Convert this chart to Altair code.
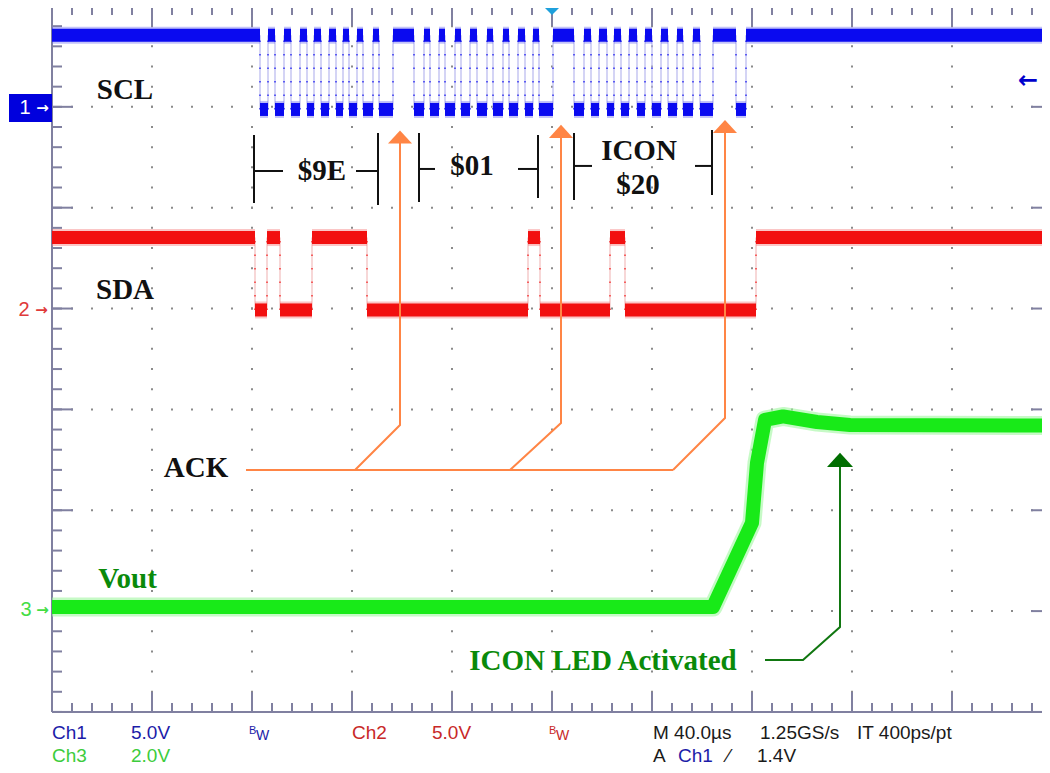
import altair as alt
import pandas as pd
import numpy as np

# ---------------- data (time in µs, 40 µs/div; voltages in V) ----------------
T_MIN, T_MAX = -200.0, 200.0
SCL_EDGES_US = [-116.8, -113.6, -110.8, -107.2, -104.4, -100.8, -98.0, -95.2, -92.4,
                -89.2, -86.4, -83.6, -81.2, -78.0, -75.6, -71.6, -69.2, -63.6, -55.2,
                -51.2, -48.8, -45.2, -42.8, -38.8, -36.4, -32.8, -30.0, -26.0, -23.6,
                -19.6, -17.2, -13.6, -10.8, -7.6, -5.2, 0.4, 8.8, 12.8, 15.6, 18.8,
                22.0, 24.8, 27.6, 30.8, 34.0, 37.2, 40.0, 43.6, 46.4, 50.0, 52.4,
                56.4, 59.2, 64.4, 73.6, 77.6]
SCL_HIGH_V, SCL_LOW_V = 3.55, -0.13
SDA_EDGES_US = [-118.8, -114.0, -108.8, -96.0, -74.0, -9.6, -4.8, 23.2, 29.2, 81.6]
SDA_HIGH_V, SDA_LOW_V = 3.52, -0.07
VOUT_T_US = [-200.0, 64.4, 80.0, 82.0, 85.2, 92.4, 106.0, 119.2, 200.0]
VOUT_V = [0.08, 0.08, 1.75, 2.94, 3.79, 3.86, 3.75, 3.69, 3.68]

CH1_POS, CH2_POS, CH3_POS = 6.0, 4.0, 1.0        # channel ground position (div)
CH1_VDIV, CH2_VDIV, CH3_VDIV = 5.0, 5.0, 2.0      # V/div

# ---------------- scales ----------------
XS = alt.Scale(domain=[-217.6, 196.0], nice=False, zero=False)
YS = alt.Scale(domain=[-0.526, 6.98], nice=False, zero=False)


def ex(f="t"):
    return alt.X(f"{f}:Q", scale=XS, axis=None)


def ey(f="L"):
    return alt.Y(f"{f}:Q", scale=YS, axis=None)


layers = []

# ---------------- graticule ----------------
GRID = "#8a8a8a"
BORDER = "#8080a0"
rows = pd.DataFrame({"L": [1, 2, 3, 4, 5, 6], "t": T_MIN, "t2": T_MAX})
layers.append(alt.Chart(rows).mark_rule(color=GRID, strokeWidth=2, strokeDash=[2, 18], strokeDashOffset=1)
              .encode(x=ex("t"), x2=alt.X2("t2:Q"), y=ey("L")))
cols = pd.DataFrame({"t": [-160, -120, -80, -40, 0, 40, 80, 120, 160], "L": 7.0, "L2": 0.0})
layers.append(alt.Chart(cols).mark_rule(color=GRID, strokeWidth=2, strokeDash=[2, 18.17], strokeDashOffset=1)
              .encode(x=ex("t"), y=ey("L"), y2=alt.Y2("L2:Q")))

border = pd.DataFrame({"t": [T_MIN, T_MIN, T_MIN, T_MAX], "t2": [T_MAX, T_MAX, T_MIN, T_MAX],
                       "L": [7.0, 0.0, 0.0, 0.0], "L2": [7.0, 0.0, 7.0, 7.0]})
layers.append(alt.Chart(border).mark_rule(color=BORDER, strokeWidth=2)
              .encode(x=ex("t"), x2=alt.X2("t2:Q"), y=ey("L"), y2=alt.Y2("L2:Q")))

minor_t = np.arange(-200, 200.1, 8.0)
major_t = np.arange(-200, 200.1, 40.0)
minor_L = np.arange(0, 7.01, 0.2)
major_L = np.arange(0, 7.01, 1.0)
for tt, ln in ((minor_t, 9), (major_t, 20)):
    d = pd.DataFrame({"t": tt, "Lt": 7.0, "Lb": 0.0})
    layers.append(alt.Chart(d).mark_rule(color=BORDER, strokeWidth=2, y2Offset=ln)
                  .encode(x=ex("t"), y=ey("Lt"), y2=alt.Y2("Lt:Q")))
    layers.append(alt.Chart(d).mark_rule(color=BORDER, strokeWidth=2, y2Offset=-ln)
                  .encode(x=ex("t"), y=ey("Lb"), y2=alt.Y2("Lb:Q")))
for ll, ln in ((minor_L, 10), (major_L, 21)):
    d = pd.DataFrame({"L": ll, "tl": T_MIN, "tr": T_MAX})
    layers.append(alt.Chart(d).mark_rule(color=BORDER, strokeWidth=2, x2Offset=ln)
                  .encode(x=ex("tl"), x2=alt.X2("tl:Q"), y=ey("L")))
    layers.append(alt.Chart(d).mark_rule(color=BORDER, strokeWidth=2, x2Offset=-ln)
                  .encode(x=ex("tr"), x2=alt.X2("tr:Q"), y=ey("L")))


# ---------------- digital waveforms ----------------
def square_wave(edges, hi, lo, pos, vdiv):
    times = [T_MIN] + list(edges) + [T_MAX]
    segs = []
    for i in range(len(times) - 1):
        v = hi if i % 2 == 0 else lo
        segs.append({"t": times[i], "t2": times[i + 1], "L": pos + v / vdiv})
    trans = pd.DataFrame({"t": edges, "Llo": pos + lo / vdiv, "Lhi": pos + hi / vdiv})
    return pd.DataFrame(segs), trans


def wave_layers(edges, hi, lo, pos, vdiv, core, halo, trans_col):
    segs, trans = square_wave(edges, hi, lo, pos, vdiv)
    out = [
        alt.Chart(trans).mark_rule(color=trans_col, strokeWidth=1.2)
        .encode(x=ex("t"), y=ey("Llo"), y2=alt.Y2("Lhi:Q")),
        alt.Chart(trans).mark_rule(color=core, strokeWidth=2, strokeDash=[1.5, 12], opacity=0.6)
        .encode(x=ex("t"), y=ey("Llo"), y2=alt.Y2("Lhi:Q")),
        alt.Chart(segs).mark_rule(color=halo, strokeWidth=17, opacity=0.4)
        .encode(x=ex("t"), x2=alt.X2("t2:Q"), y=ey("L")),
        alt.Chart(segs).mark_rule(color=core, strokeWidth=13)
        .encode(x=ex("t"), x2=alt.X2("t2:Q"), y=ey("L")),
    ]
    return out


layers += wave_layers(SCL_EDGES_US, SCL_HIGH_V, SCL_LOW_V, CH1_POS, CH1_VDIV, "#0a0af0", "#6a6af0", "#b8b8ee")
layers += wave_layers(SDA_EDGES_US, SDA_HIGH_V, SDA_LOW_V, CH2_POS, CH2_VDIV, "#f21010", "#f47070", "#f2bcbc")

vout = pd.DataFrame({"t": VOUT_T_US, "L": [CH3_POS + v / CH3_VDIV for v in VOUT_V], "k": range(len(VOUT_V))})
layers.append(alt.Chart(vout).mark_line(color="#a0f7a0", strokeWidth=19, opacity=0.6, strokeJoin="round")
              .encode(x=ex("t"), y=ey("L"), order="k:Q"))
layers.append(alt.Chart(vout).mark_line(color="#18ea18", strokeWidth=14, strokeJoin="round")
              .encode(x=ex("t"), y=ey("L"), order="k:Q"))

# ---------------- annotations ----------------
brackets = pd.DataFrame({
    "t":  [-119.2, -119.2, -69.6, -78.4, -53.2, -53.2, -5.6, -13.6, 8.8, 8.8, 64.0, 57.2],
    "t2": [-119.2, -107.6, -69.6, -69.6, -53.2, -46.8, -5.6, -5.6, 8.8, 16.0, 64.0, 64.0],
    "L":  [5.721, 5.364, 5.741, 5.364, 5.741, 5.384, 5.721, 5.384, 5.741, 5.414, 5.771, 5.414],
    "L2": [5.047, 5.364, 5.027, 5.364, 5.057, 5.384, 5.096, 5.384, 5.077, 5.414, 5.126, 5.414],
})
layers.append(alt.Chart(brackets).mark_rule(color="#111111", strokeWidth=2)
              .encode(x=ex("t"), x2=alt.X2("t2:Q"), y=ey("L"), y2=alt.Y2("L2:Q")))

ORANGE = "#ff8545"
ack_lines = pd.DataFrame({
    "id": [1, 1, 1, 2, 2, 2, 3, 3, 3, 4, 4],
    "k":  [0, 1, 2, 0, 1, 2, 0, 1, 2, 0, 1],
    "t":  [-60.8, -60.8, -78.8, 3.6, 3.6, -16.8, 69.2, 69.2, 48.4, -122.4, 48.4],
    "L":  [5.67, 2.845, 2.399, 5.72, 2.865, 2.399, 5.77, 2.914, 2.399, 2.399, 2.399],
})
layers.append(alt.Chart(ack_lines).mark_line(color=ORANGE, strokeWidth=2)
              .encode(x=ex("t"), y=ey("L"), detail="id:N", order="k:Q"))
ack_heads = pd.DataFrame({"t": [-60.8, 3.6, 69.2], "L": [5.701, 5.756, 5.805]})
layers.append(alt.Chart(ack_heads).mark_point(shape="M-1,0.55L0,-0.55L1,0.55Z", filled=True, size=576,
                                              color=ORANGE, opacity=1, strokeWidth=0)
              .encode(x=ex("t"), y=ey("L")))

DKGREEN = "#0a8a0a"
led_line = pd.DataFrame({"t": [85.2, 100.4, 115.2, 115.2], "L": [0.516, 0.516, 0.843, 2.45], "k": [0, 1, 2, 3]})
layers.append(alt.Chart(led_line).mark_line(color="#117711", strokeWidth=2)
              .encode(x=ex("t"), y=ey("L"), order="k:Q"))
layers.append(alt.Chart(pd.DataFrame({"t": [115.2], "L": [2.499]}))
              .mark_point(shape="M-1,0.55L0,-0.55L1,0.55Z", filled=True, size=676, color="#006e00",
                          opacity=1, strokeWidth=0)
              .encode(x=ex("t"), y=ey("L")))

ann = pd.DataFrame({
    "txt": ["SCL", "SDA", "$9E", "$01", "ICON", "$20", "ACK", "Vout", "ICON LED Activated"],
    "t": [-170.8, -170.8, -92.0, -32.0, 34.8, 34.4, -142.4, -169.8, 20.4],
    "L": [6.078, 4.095, 5.275, 5.324, 5.473, 5.136, 2.330, 1.229, 0.416],
    "col": ["#111111"] * 7 + [DKGREEN, DKGREEN],
})
layers.append(alt.Chart(ann).mark_text(font="Liberation Serif", fontSize=29, fontWeight="bold",
                                       align="center", baseline="alphabetic")
              .encode(x=ex("t"), y=ey("L"), text="txt:N", color=alt.Color("col:N", scale=None)))

# ---------------- channel markers ----------------
layers.append(alt.Chart(pd.DataFrame({"t": [-217.2], "t2": [-200.0], "L": [6.127], "L2": [5.850]}))
              .mark_rect(color="#0000dd")
              .encode(x=ex("t"), x2=alt.X2("t2:Q"), y=ey("L"), y2=alt.Y2("L2:Q")))
marks_num = pd.DataFrame({"txt": ["1", "2", "3"], "t": [-210.8, -211.2, -210.4], "L": [5.99, 3.986, 1.011],
                          "col": ["#ffffff", "#e03a3a", "#44dd44"]})
layers.append(alt.Chart(marks_num).mark_text(font="Liberation Sans", fontSize=20, align="center", baseline="middle")
              .encode(x=ex("t"), y=ey("L"), text="txt:N", color=alt.Color("col:N", scale=None)))
marks_arrow = pd.DataFrame({"txt": ["→", "→", "→"], "t": [-203.8, -204.2, -203.8],
                            "L": [5.99, 3.99, 1.011],
                            "col": ["#ffffff", "#e03a3a", "#44dd44"]})
layers.append(alt.Chart(marks_arrow).mark_text(font="DejaVu Sans", fontSize=15, fontWeight="bold",
                                               align="center", baseline="middle")
              .encode(x=ex("t"), y=ey("L"), text="txt:N", color=alt.Color("col:N", scale=None)))
layers.append(alt.Chart(pd.DataFrame({"txt": ["←"], "t": [190.4], "L": [6.256]}))
              .mark_text(font="DejaVu Sans", fontSize=24, fontWeight="bold", color="#0000cc",
                         align="center", baseline="middle")
              .encode(x=ex("t"), y=ey("L"), text="txt:N"))
layers.append(alt.Chart(pd.DataFrame({"t": [0.0], "L": [6.96]}))
              .mark_point(shape="M-1,-0.5L1,-0.5L0,0.5Z", filled=True, size=400, color="#1ea0dc",
                          opacity=1, strokeWidth=0)
              .encode(x=ex("t"), y=ey("L")))

# ---------------- status readout ----------------
BLUE_T, RED_T, GREEN_T, BLACK_T = "#1c1ca8", "#c82828", "#3ccc3c", "#1a1a1a"
R1, R2 = -0.268, -0.496
status = pd.DataFrame({
    "txt": ["Ch1", "5.0V", "Ch2", "5.0V", "M 40.0µs", "1.25GS/s", "IT 400ps/pt",
            "Ch3", "2.0V", "A", "Ch1", "⁄", "1.4V"],
    "t": [-200.0, -168.4, -80.0, -48.0, 40.4, 83.2, 122.0, -200.0, -168.4, 40.4, 50.4, 70.0, 82.0],
    "L": [R1] * 7 + [R2] * 6,
    "col": [BLUE_T, BLUE_T, RED_T, RED_T, BLACK_T, BLACK_T, BLACK_T,
            GREEN_T, GREEN_T, BLACK_T, BLUE_T, BLACK_T, BLACK_T],
})
layers.append(alt.Chart(status).mark_text(font="Liberation Sans", fontSize=19, align="left", baseline="alphabetic")
              .encode(x=ex("t"), y=ey("L"), text="txt:N", color=alt.Color("col:N", scale=None)))
bw_b = pd.DataFrame({"txt": ["B", "B"], "t": [-121.2, -1.2], "L": [-0.218, -0.218], "col": [BLUE_T, RED_T]})
bw_w = pd.DataFrame({"txt": ["W", "W"], "t": [-118.4, 1.6], "L": [-0.278, -0.278], "col": [BLUE_T, RED_T]})
layers.append(alt.Chart(bw_b).mark_text(font="Liberation Sans", fontSize=11, align="left", baseline="alphabetic")
              .encode(x=ex("t"), y=ey("L"), text="txt:N", color=alt.Color("col:N", scale=None)))
layers.append(alt.Chart(bw_w).mark_text(font="Liberation Sans", fontSize=14, align="left", baseline="alphabetic")
              .encode(x=ex("t"), y=ey("L"), text="txt:N", color=alt.Color("col:N", scale=None)))

chart = (alt.layer(*layers)
         .properties(width=1034, height=757, autosize=alt.AutoSizeParams(type="none"), padding=0,
                     background="white")
         .configure_view(stroke=None))

chart.save("out.html", embed_options={"renderer": "svg", "actions": False})
